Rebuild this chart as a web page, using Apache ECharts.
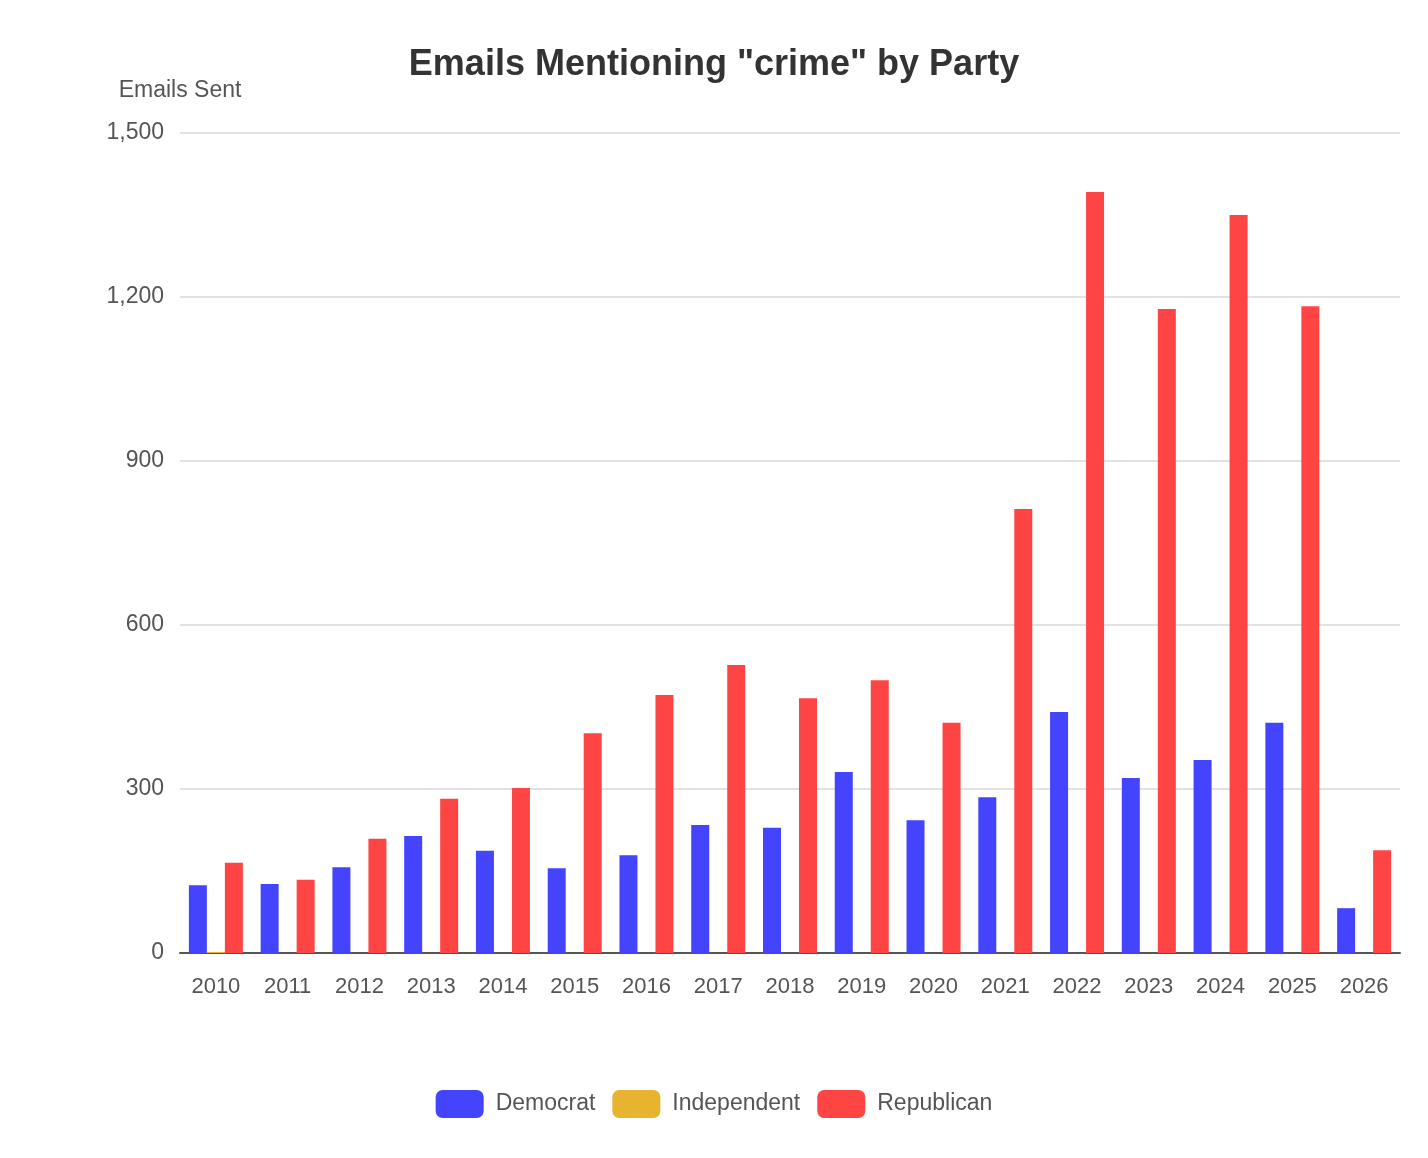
<!DOCTYPE html>
<html>
<head>
<meta charset="utf-8">
<script src="https://cdn.jsdelivr.net/npm/echarts@6/dist/echarts.min.js"></script>
<style>html,body{margin:0;padding:0;background:#fff}#c{width:1428px;height:1158px}</style>
</head>
<body>
<div id="c"></div>
<script>
const years = ['2010','2011','2012','2013','2014','2015','2016','2017','2018','2019','2020','2021','2022','2023','2024','2025','2026'];
const democrat = [124,126,157,214,187,155,179,234,229,331,243,285,441,320,353,421,82];
const independent = [2,0,0,0,0,0,0,0,0,0,0,0,0,0,0,0,0];
const republican = [165,134,209,282,302,402,472,527,466,499,421,812,1392,1178,1350,1183,188];
const yTicks = [0,300,600,900,1200,1500];

const chart = echarts.init(document.getElementById('c'));
const ff = '"Liberation Sans", Arial, Helvetica, sans-serif';
chart.setOption({
  animation:false,
  textStyle:{fontFamily:ff},
  title:{text:'Emails Mentioning "crime" by Party',left:'center',top:42,
    textStyle:{fontFamily:ff,fontSize:36,fontWeight:'bold',color:'#333'}},
  grid:{left:180,right:28,top:133,bottom:205},
  legend:{bottom:35,left:'center',itemWidth:48,itemHeight:28,itemGap:17,icon:'roundRect',
    textStyle:{fontFamily:ff,fontSize:23,color:'#555',padding:[0,0,0,7]}},
  xAxis:{type:'category',data:years,
    axisLine:{lineStyle:{color:'#555',width:2}},axisTick:{show:false},
    axisLabel:{fontSize:22,color:'#555',margin:23,fontFamily:ff}},
  yAxis:{type:'value',min:0,max:1500,interval:300,name:'Emails Sent',nameGap:31,
    nameTextStyle:{fontSize:23,color:'#555',fontFamily:ff,align:'center'},
    axisLine:{show:false},axisTick:{show:false},
    axisLabel:{fontSize:23,color:'#555',margin:16,fontFamily:ff,
      formatter:v=>v.toLocaleString('en-US')},
    splitLine:{lineStyle:{color:'#d8d8dc',width:1.5}}},
  series:[
    {name:'Democrat',type:'bar',data:democrat,barWidth:18,barGap:'0%',itemStyle:{color:'#4444ff'}},
    {name:'Independent',type:'bar',data:independent,barWidth:18,barGap:'0%',itemStyle:{color:'#e6b42e'}},
    {name:'Republican',type:'bar',data:republican,barWidth:18,barGap:'0%',itemStyle:{color:'#ff4444'}}
  ]
});
</script>
</body>
</html>
